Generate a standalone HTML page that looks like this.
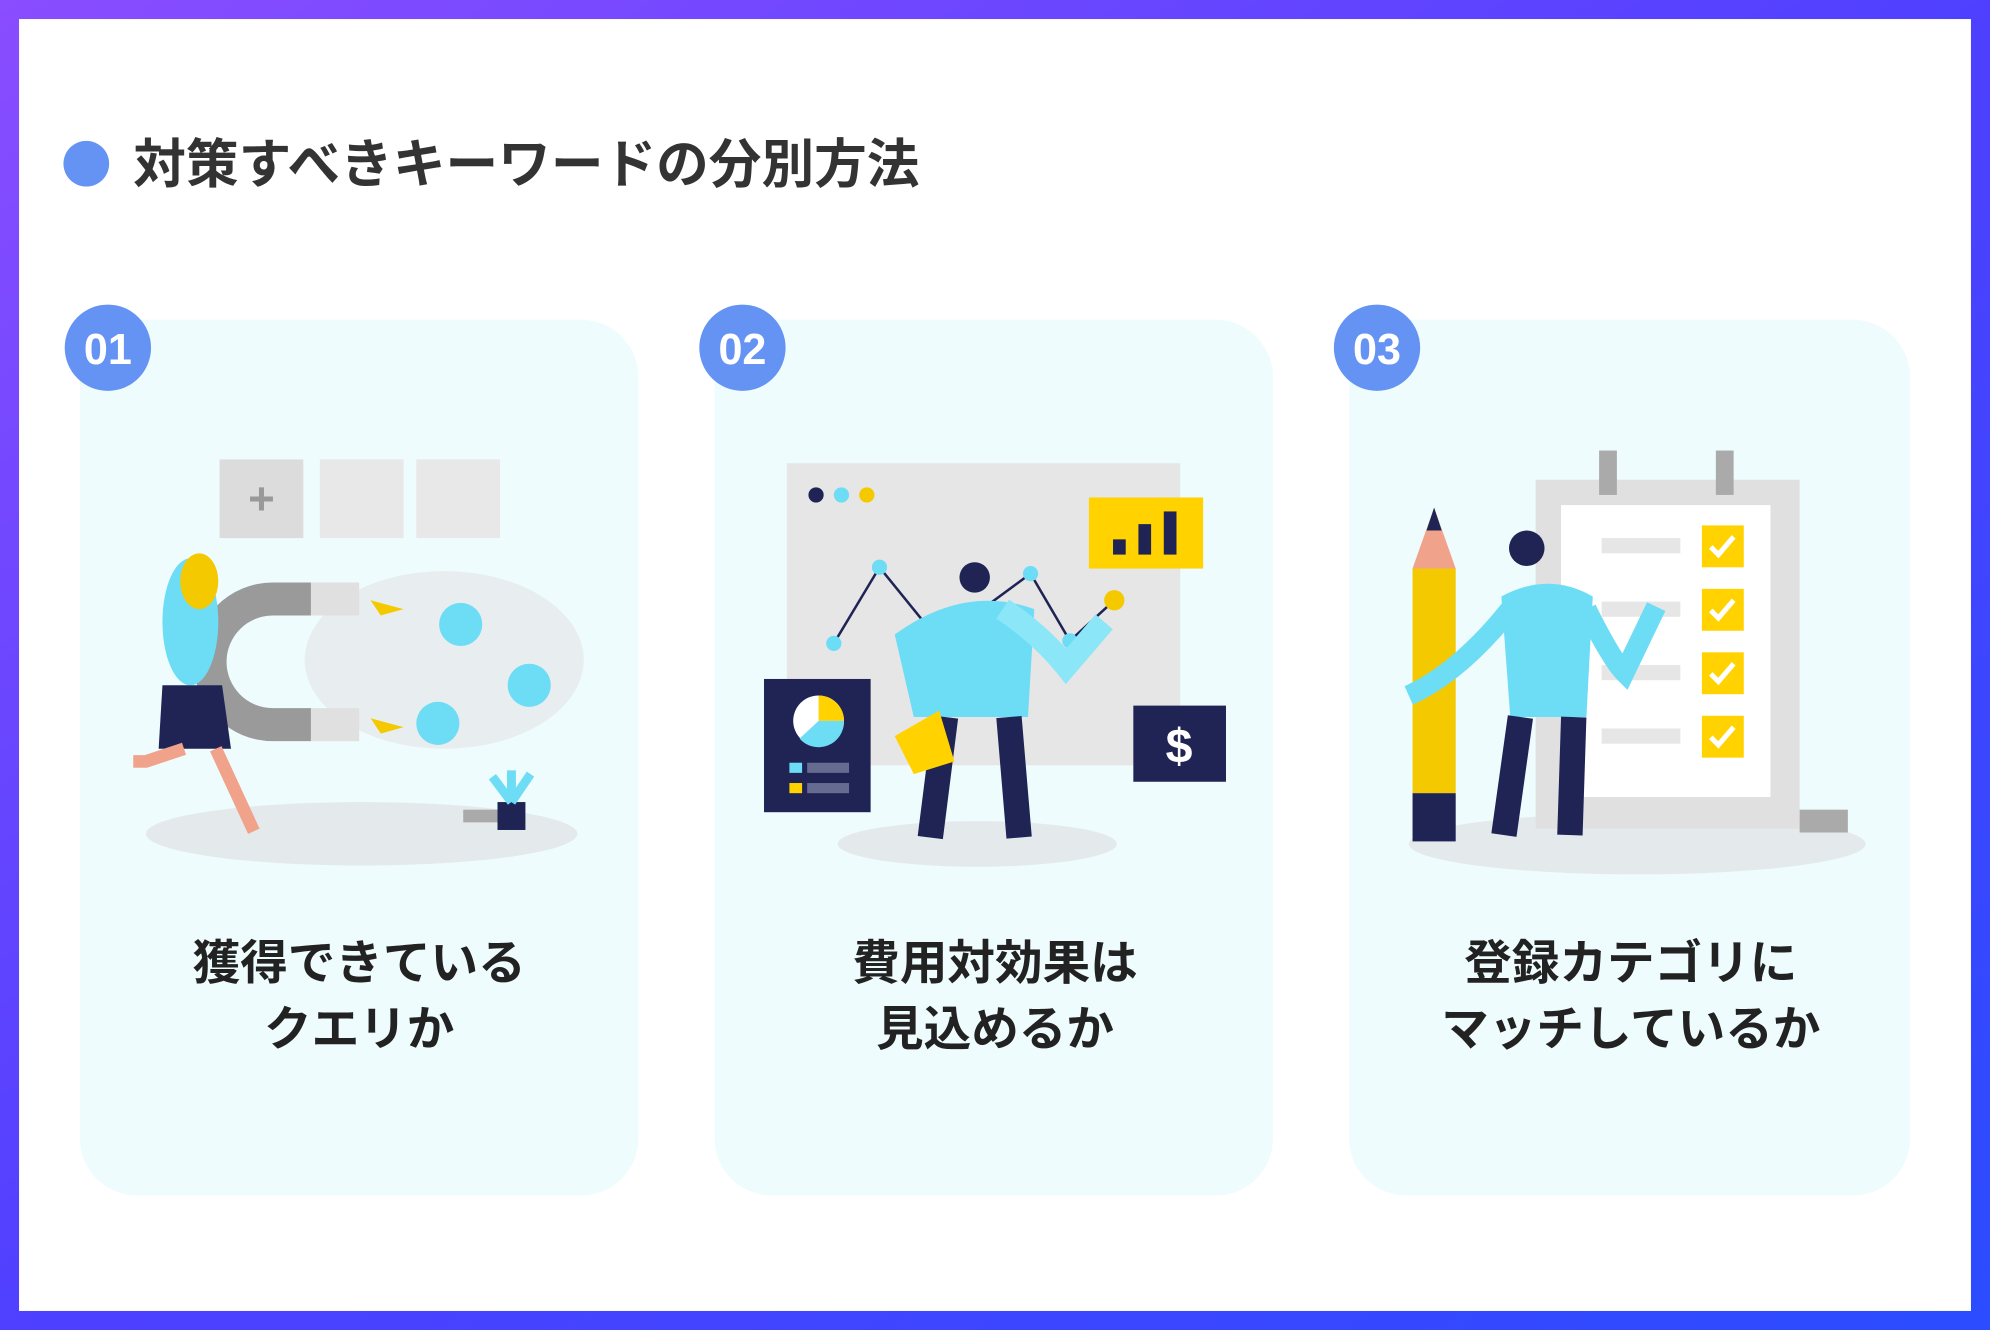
<!DOCTYPE html>
<html><head><meta charset="utf-8"><style>
html,body{margin:0;padding:0;width:1990px;height:1330px;overflow:hidden;background:#fff}
svg{display:block}
text{font-family:"Liberation Sans","Noto Sans CJK JP",sans-serif;font-weight:bold}
</style></head><body>
<svg width="1990" height="1330" viewBox="0 0 1568 1048" preserveAspectRatio="none" xmlns="http://www.w3.org/2000/svg">
<defs>
<linearGradient id="g" x1="0" y1="0" x2="1" y2="1">
<stop offset="0" stop-color="#8a4dff"/><stop offset="0.5" stop-color="#4f40ff"/><stop offset="1" stop-color="#2b4cff"/>
</linearGradient>
</defs>
<rect width="1568" height="1048" fill="url(#g)"/>
<rect x="15" y="15" width="1538" height="1018" fill="#fff"/>
<circle cx="68" cy="129" r="18" fill="#6493f4"/>
<text x="105" y="144" font-size="41.5" fill="#333">対策すべきキーワードの分別方法</text>

<!-- cards -->
<rect x="63" y="252" width="440" height="690" rx="45" fill="#eefcfd"/>
<rect x="563" y="252" width="440" height="690" rx="45" fill="#eefcfd"/>
<rect x="1063" y="252" width="442" height="690" rx="45" fill="#eefcfd"/>
<g fill="#6493f4"><circle cx="85" cy="274" r="34"/><circle cx="585" cy="274" r="34"/><circle cx="1085" cy="274" r="34"/></g>
<g font-size="34" fill="#fff" text-anchor="middle"><text x="85" y="287">01</text><text x="585" y="287">02</text><text x="1085" y="287">03</text></g>

<g font-size="37.5" fill="#222" text-anchor="middle">
<text x="283" y="772">獲得できている</text><text x="283" y="824">クエリか</text>
<text x="784" y="772">費用対効果は</text><text x="784" y="824">見込めるか</text>
<text x="1285" y="772">登録カテゴリに</text><text x="1285" y="824">マッチしているか</text>
</g>

<!-- illustration 1 -->
<ellipse cx="285" cy="657" rx="170" ry="25" fill="#e4eaec"/>
<rect x="173" y="362" width="66" height="62" fill="#dcdcdc"/>
<rect x="252" y="362" width="66" height="62" fill="#e8e8e8"/>
<rect x="328" y="362" width="66" height="62" fill="#e8e8e8"/>
<text x="206" y="405" font-size="36" fill="#999" text-anchor="middle">+</text>
<ellipse cx="350" cy="520" rx="110" ry="70" fill="#e8eeef"/>
<path d="M245 459 H215 A62 62 0 0 0 215 584 H245 V558 H215 A36 36 0 0 1 215 485 H245 Z" fill="#9a9a9a"/>
<rect x="245" y="459" width="38" height="26" fill="#e0e0e0"/><rect x="245" y="558" width="38" height="26" fill="#e0e0e0"/>
<circle cx="363" cy="492" r="17" fill="#6ddcf5"/><circle cx="417" cy="540" r="17" fill="#6ddcf5"/><circle cx="345" cy="570" r="17" fill="#6ddcf5"/>
<polygon points="292,473 318,480 300,485" fill="#f5c900"/><polygon points="292,566 318,573 300,578" fill="#f5c900"/>
<ellipse cx="150" cy="490" rx="22" ry="50" fill="#6ddcf5"/>
<ellipse cx="157" cy="458" rx="15" ry="22" fill="#f5c900"/>
<path d="M128 540 L175 540 L182 590 L125 590 Z" fill="#1f2455"/>
<path d="M145 590 L115 600 L105 600 M170 590 L200 655" stroke="#f0a38a" stroke-width="10" fill="none"/>
<rect x="392" y="632" width="22" height="22" fill="#1f2455"/><path d="M403 632 l-15 -20 M403 632 l15 -22 M403 632 l0 -25" stroke="#6ddcf5" stroke-width="7"/>
<rect x="365" y="638" width="27" height="10" fill="#aaa"/>

<!-- illustration 2 -->
<ellipse cx="770" cy="665" rx="110" ry="18" fill="#e4eaec"/>
<rect x="620" y="365" width="310" height="238" fill="#e6e6e6"/>
<circle cx="643" cy="390" r="6" fill="#1f2455"/><circle cx="663" cy="390" r="6" fill="#6ddcf5"/><circle cx="683" cy="390" r="6" fill="#f5c900"/>
<polyline points="657,507 693,447 740,505 812,452 843,505 878,473" fill="none" stroke="#1f2455" stroke-width="2"/>
<g fill="#6ddcf5"><circle cx="657" cy="507" r="6"/><circle cx="693" cy="447" r="6"/><circle cx="812" cy="452" r="6"/><circle cx="843" cy="505" r="6"/></g>
<circle cx="878" cy="473" r="8" fill="#f5c900"/>
<rect x="858" y="392" width="90" height="56" fill="#ffd200"/>
<rect x="877" y="425" width="10" height="12" fill="#1f2455"/><rect x="897" y="413" width="10" height="24" fill="#1f2455"/><rect x="917" y="403" width="10" height="34" fill="#1f2455"/>
<rect x="602" y="535" width="84" height="105" fill="#1f2455"/>
<circle cx="645" cy="568" r="20" fill="#fff"/><path d="M645 568 L645 548 A20 20 0 0 1 665 568 Z" fill="#ffd200"/><path d="M645 568 L665 568 A20 20 0 0 1 630 582 Z" fill="#6ddcf5"/>
<rect x="622" y="601" width="10" height="8" fill="#6ddcf5"/><rect x="636" y="601" width="33" height="8" fill="#666b90"/>
<rect x="622" y="617" width="10" height="8" fill="#ffd200"/><rect x="636" y="617" width="33" height="8" fill="#666b90"/>
<rect x="893" y="556" width="73" height="60" fill="#1f2455"/>
<text x="929" y="601" font-size="38" fill="#fff" text-anchor="middle">$</text>
<path d="M705 500 Q760 460 815 480 L810 565 L720 565 Z" fill="#6ddcf5"/>
<path d="M790 480 Q820 500 840 525 L870 490" stroke="#8be6f8" stroke-width="18" fill="none"/>
<circle cx="768" cy="455" r="12" fill="#1f2455"/>
<path d="M745 565 L733 660 M795 565 L803 660" stroke="#1f2455" stroke-width="20"/>
<polygon points="705,580 740,560 752,600 720,610" fill="#ffd200"/>

<!-- illustration 3 -->
<ellipse cx="1290" cy="665" rx="180" ry="24" fill="#e4eaec"/>
<rect x="1210" y="378" width="208" height="275" fill="#e0e0e0"/>
<rect x="1230" y="398" width="165" height="230" fill="#fff"/>
<rect x="1260" y="355" width="14" height="35" fill="#aaa"/><rect x="1352" y="355" width="14" height="35" fill="#aaa"/>
<g fill="#e6e6e6"><rect x="1262" y="424" width="62" height="12"/><rect x="1262" y="474" width="62" height="12"/><rect x="1262" y="524" width="62" height="12"/><rect x="1262" y="574" width="62" height="12"/></g>
<g fill="#ffd200"><rect x="1341" y="414" width="33" height="33"/><rect x="1341" y="464" width="33" height="33"/><rect x="1341" y="514" width="33" height="33"/><rect x="1341" y="564" width="33" height="33"/></g>
<g stroke="#fff" stroke-width="4" fill="none"><path d="M1348 431 l6 6 l12 -14"/><path d="M1348 481 l6 6 l12 -14"/><path d="M1348 531 l6 6 l12 -14"/><path d="M1348 581 l6 6 l12 -14"/></g>
<rect x="1418" y="638" width="38" height="18" fill="#aaa"/>
<polygon points="1113,448 1147,448 1147,625 1113,625" fill="#f5c900"/>
<polygon points="1113,448 1147,448 1130,400" fill="#f0a38a"/><polygon points="1124,418 1136,418 1130,400" fill="#1f2455"/>
<rect x="1113" y="625" width="34" height="38" fill="#1f2455"/>
<path d="M1183 470 Q1220 450 1255 470 L1250 565 L1190 565 Z" fill="#6ddcf5"/>
<path d="M1190 480 Q1150 530 1110 548 M1250 480 Q1270 520 1280 530 L1305 478" stroke="#6ddcf5" stroke-width="16" fill="none"/>
<circle cx="1203" cy="432" r="14" fill="#1f2455"/>
<path d="M1198 565 L1185 658 M1240 565 L1237 658" stroke="#1f2455" stroke-width="20"/>
</svg>
</body></html>
